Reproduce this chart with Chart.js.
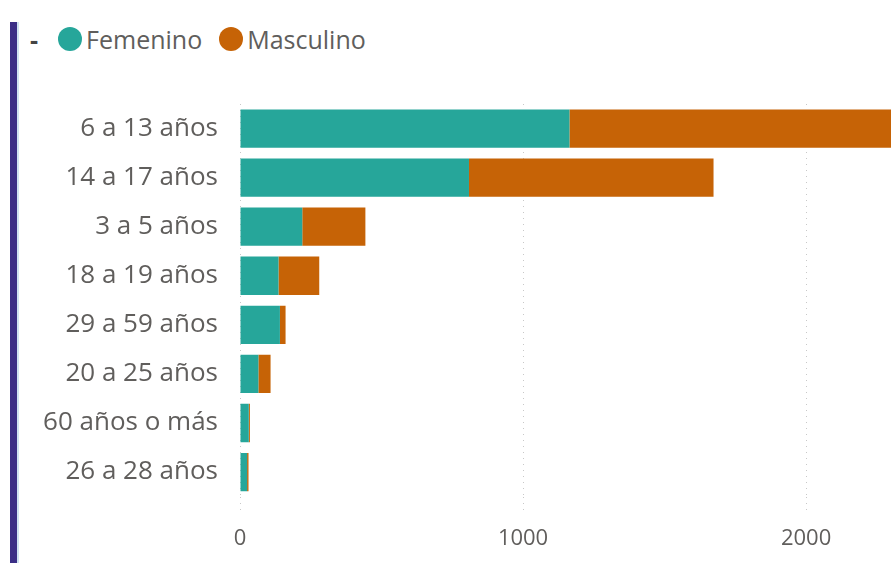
<!DOCTYPE html>
<html>
<head>
<meta charset="utf-8">
<script src="https://cdn.jsdelivr.net/npm/chart.js@4.4.0/dist/chart.umd.min.js"></script>
<style>
  body { margin: 0; background: #fff; }
  #wrap { position: relative; width: 891px; height: 563px; overflow: hidden; }
  #edge { position: absolute; left: 10px; top: 22px; width: 7px; bottom: 0; background: #3b2e86; border-right: 2px solid #cfe3f2; }
  #legend { position: absolute; left: 30px; top: 22px; font-family: "Segoe UI", "Open Sans", sans-serif; font-size: 25px; color: #605e5c; display: flex; align-items: center; }
  #legend .dash { margin-right: 20px; font-weight: bold; color: #444; }
  #legend .item { display: flex; align-items: center; margin-right: 17px; }
  #legend .dot { width: 24px; height: 24px; border-radius: 50%; margin-right: 4px; }
  canvas { position: absolute; left: 0; top: 0; }
</style>
</head>
<body>
<div id="wrap">
  <div id="edge"></div>
  <div id="legend"><span class="dash">-</span></div>
  <canvas id="myChart" width="891" height="563"></canvas>
</div>
<script>
var categories = ["6 a 13 años", "14 a 17 años", "3 a 5 años", "18 a 19 años", "29 a 59 años", "20 a 25 años", "60 años o más", "26 a 28 años"];
var femenino = [1164, 809, 220, 136, 141, 65, 31, 25];
var masculino = [1250, 864, 223, 144, 20, 43, 4, 5];
var xTicks = [0, 1000, 2000];
var seriesNames = ["Femenino", "Masculino"];
var seriesColors = ["#26a69a", "#c66306"];

var font = "'Segoe UI', 'Open Sans', sans-serif";

var ctx = document.getElementById("myChart").getContext("2d");
var myChart = new Chart(ctx, {
  type: "bar",
  data: {
    labels: categories,
    datasets: [
      { label: seriesNames[0], data: femenino, backgroundColor: seriesColors[0] },
      { label: seriesNames[1], data: masculino, backgroundColor: seriesColors[1] },
    ],
  },
  options: {
    indexAxis: "y",
    responsive: false,
    animation: false,
    layout: { padding: { top: 104, bottom: 0, left: 0, right: 0 } },
    plugins: { legend: { display: false }, tooltip: { enabled: false } },
    datasets: { bar: { barPercentage: 0.78, categoryPercentage: 1 } },
    scales: {
      x: {
        stacked: true,
        min: 0,
        max: 2300,
        afterBuildTicks: function (scale) {
          scale.ticks = xTicks.map(function (v) { return { value: v }; });
        },
        grid: { color: "#c8c8c8", tickColor: "#c8c8c8", tickLength: 18, tickBorderDash: [1, 5], lineWidth: 1 },
        border: { display: false, dash: [1, 5] },
        ticks: {
          color: "#605e5c",
          font: { family: font, size: 22 },
          padding: 11,
          callback: function (v) { return String(v); },
        },
      },
      y: {
        stacked: true,
        afterFit: function (scale) { scale.width = 240; },
        grid: { display: false },
        border: { display: false },
        ticks: { color: "#605e5c", font: { family: font, size: 26 }, padding: 14 },
      },
    },
  },
});

var legend = document.getElementById("legend");
seriesNames.forEach(function (name, i) {
  var item = document.createElement("span");
  item.className = "item";
  var dot = document.createElement("span");
  dot.className = "dot";
  dot.style.background = seriesColors[i];
  item.appendChild(dot);
  item.appendChild(document.createTextNode(name));
  legend.appendChild(item);
});
</script>
</body>
</html>
